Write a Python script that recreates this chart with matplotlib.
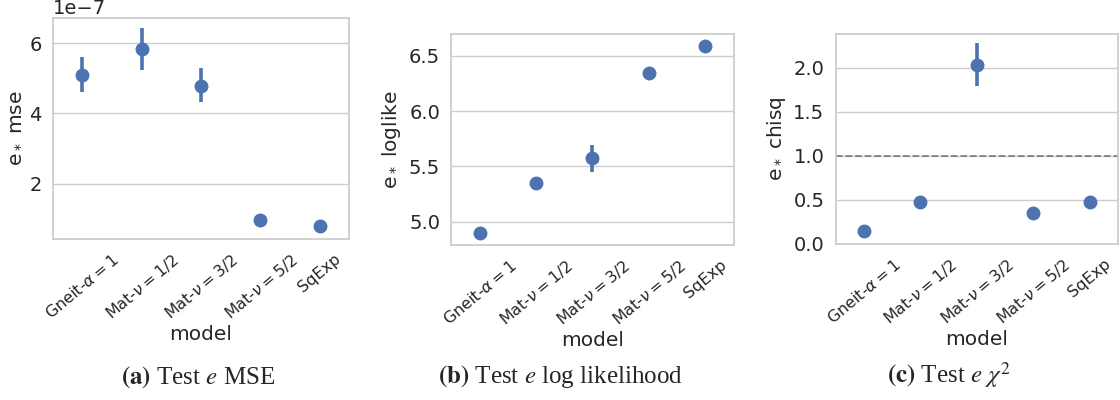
import numpy as np
import matplotlib.pyplot as plt
import seaborn as sns

sns.set_theme(style="whitegrid")
plt.rcParams['font.family'] = ['DejaVu Sans']

models = [r"Gneit-$\alpha=1$", r"Mat-$\nu=1/2$", r"Mat-$\nu=3/2$",
          r"Mat-$\nu=5/2$", "SqExp"]

# test error on e: mean, lower and upper CI
mse = [5.09e-7, 5.82e-7, 4.79e-7, 0.98e-7, 0.81e-7]
mse_lo = [4.60e-7, 5.24e-7, 4.33e-7, 0.98e-7, 0.81e-7]
mse_hi = [5.60e-7, 6.43e-7, 5.28e-7, 0.98e-7, 0.81e-7]

loglike = [4.90, 5.345, 5.573, 6.345, 6.59]
loglike_lo = [4.90, 5.345, 5.445, 6.345, 6.59]
loglike_hi = [4.90, 5.345, 5.69, 6.345, 6.59]

chisq = [0.148, 0.477, 2.034, 0.352, 0.477]
chisq_lo = [0.148, 0.42, 1.795, 0.352, 0.477]
chisq_hi = [0.148, 0.54, 2.28, 0.352, 0.477]

ylabels = [r"e$_*$ mse", r"e$_*$ loglike", r"e$_*$ chisq"]
captions = [r"$\mathbf{(a)}$ Test $e$ MSE",
            r"$\mathbf{(b)}$ Test $e$ log likelihood",
            r"$\mathbf{(c)}$ Test $e$ $\chi^2$"]

blue = "#4C72B0"

fig = plt.figure(figsize=(11.2, 4.0), dpi=100)
boxes = [[0.047, 0.403, 0.265, 0.552],
         [0.403, 0.388, 0.252, 0.528],
         [0.746, 0.39, 0.252, 0.525]]
ylims = [(0.44e-7, 6.71e-7), (4.79, 6.70), (-0.005, 2.386)]
data = [(mse, mse_lo, mse_hi), (loglike, loglike_lo, loglike_hi),
        (chisq, chisq_lo, chisq_hi)]

x = np.arange(len(models))
for i, (box, (m, lo, hi)) in enumerate(zip(boxes, data)):
    ax = fig.add_axes(box)
    m = np.array(m); lo = np.array(lo); hi = np.array(hi)
    ax.vlines(x, lo, hi, color=blue, lw=2.6, zorder=3)
    ax.plot(x, m, "o", color=blue, ms=9, zorder=4)
    ax.set_xlim(-0.5, len(models) - 0.5)
    ax.set_ylim(*ylims[i])
    ax.set_xticks(x)
    ax.set_xticklabels(models, rotation=40, fontsize=11.5)
    ax.tick_params(axis="y", labelsize=14, pad=2)
    ax.tick_params(axis="x", pad=3)
    ax.set_ylabel(ylabels[i], fontsize=14.5, labelpad=4)
    ax.set_xlabel("model", fontsize=14.5, labelpad=2)
    ax.grid(axis="x", visible=False)
    for s in ax.spines.values():
        s.set_color("#cccccc")
    if i == 0:
        ax.set_yticks([2e-7, 4e-7, 6e-7])
        ax.yaxis.get_offset_text().set_fontsize(14)
    elif i == 1:
        ax.set_yticks([5.0, 5.5, 6.0, 6.5])
    else:
        ax.set_yticks([0.0, 0.5, 1.0, 1.5, 2.0])
        ax.axhline(1.0, color="gray", ls="--", lw=1.3, zorder=2)

cap_x = [0.177, 0.5, 0.847]
for cx, cap in zip(cap_x, captions):
    fig.text(cx, 0.025, cap, ha="center", va="bottom", fontsize=18,
             family="Liberation Serif", math_fontfamily="stix")

fig.savefig("out.png", dpi=100)
